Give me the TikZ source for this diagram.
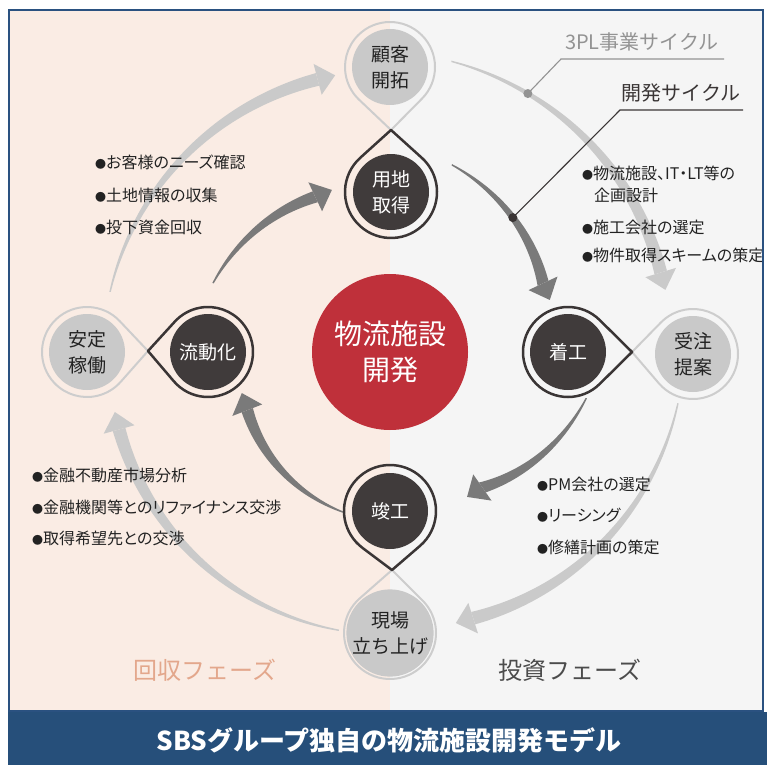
\documentclass[tikz,border=0pt]{standalone}
\usepackage{fontspec}
\newfontfamily\cjk{Noto Sans CJK JP}
\newfontfamily\cjkp[RawFeature=+palt]{Noto Sans CJK JP}
\usetikzlibrary{calc}
\definecolor{cPeach}{HTML}{FAECE4}
\definecolor{cRightBg}{HTML}{F5F5F5}
\definecolor{cFrame}{HTML}{2A5180}
\definecolor{cBanner}{HTML}{264F7A}
\definecolor{cRed}{HTML}{BF303A}
\definecolor{cDarkFill}{HTML}{403B3B}
\definecolor{cDarkRing}{HTML}{3A3535}
\definecolor{cLightFill}{HTML}{C9C9C9}
\definecolor{cLightRing}{HTML}{CDCDCD}
\definecolor{cLightArrow}{HTML}{CACACA}
\definecolor{cDarkArrow}{HTML}{7A7A7A}
\definecolor{cSalmon}{HTML}{E3A78C}
\definecolor{cText}{HTML}{222222}

% tapered curved arrow around the hub: colour, tail angle, tail radius, tip angle, tip radius, body width
\newcommand\swoosh[6]{%
  \pgfmathsetmacro\swAb{(#4)+18/(#5)*57.2958}%
  \fill[#1] plot[smooth,domain=0:1,samples=30,variable=\s]
     ({(#2)+(\swAb-(#2))*\s}:{(#3)+((#5)-(#3))*\s+0.7+((#6)/2-0.7)*\s})
     -- plot[smooth,domain=1:0,samples=30,variable=\s]
     ({(#2)+(\swAb-(#2))*\s}:{(#3)+((#5)-(#3))*\s-0.7-((#6)/2-0.7)*\s}) -- cycle;
  \fill[#1] (\swAb:{(#5)+16}) -- (#4:#5) -- (\swAb:{(#5)-16}) -- cycle;
}
% teardrop loop: style, centre, tip point, radius
\newcommand\teardrop[4]{%
  \draw[#1] let \p1=(#2), \p2=(#3),
     \n1={veclen(\x2-\x1,\y2-\y1)},
     \n2={atan2(\y2-\y1,\x2-\x1)},
     \n3={acos((#4)/\n1)} in
     (#3) -- ($(\p1)+(\n2+\n3:#4)$)
     arc[start angle=\n2+\n3, end angle=\n2+360-\n3, radius=#4] -- cycle;
}

\begin{document}
\begin{tikzpicture}[x=1pt,y=1pt,
  darkcircle/.style={circle,fill=cDarkFill,minimum size=76pt,inner sep=0pt,text=white,align=center,font=\cjk\fontsize{19}{26}\selectfont},
  lightcircle/.style={circle,fill=cLightFill,minimum size=76pt,inner sep=0pt,text=cText,align=center,font=\cjk\fontsize{19}{26}\selectfont},
  hubcircle/.style={circle,fill=cRed,minimum size=156pt,inner sep=0pt,text=white,align=center,font=\cjk\fontsize{28}{36}\selectfont},
  darkloop/.style={draw=cDarkRing,line width=2.5pt,line join=round},
  lightloop/.style={draw=cLightRing,line width=2pt,line join=round},
  item/.style={anchor=west,inner sep=0pt,text=cText,font=\cjkp\fontsize{16}{16}\selectfont},
  cyclelabel/.style={inner sep=0pt,font=\cjk\fontsize{20}{20}\selectfont},
  phaselabel/.style={inner sep=0pt,font=\cjk\fontsize{24}{24}\selectfont}
]
\useasboundingbox (0,0) rectangle (767,-765);
\fill[white] (0,0) rectangle (767,-765);

\begin{scope}
\clip (9,-10) rectangle (763,-711);
\fill[cPeach] (9,-10) rectangle (390,-711);
\fill[cRightBg] (390,-10) rectangle (763,-711);

% cycle arrows
\begin{scope}[shift={(390,-355)}]
  % 3PL cycle (light)
  \swoosh{cLightArrow}{167.3}{287}{101.1}{285}{13}
  \swoosh{cLightArrow}{78.2}{300}{13.3}{283}{13}
  \swoosh{cLightArrow}{-9.5}{292}{-76.2}{276}{13}
  \swoosh{cLightArrow}{259.5}{280}{191.7}{281}{13}
  % development cycle (dark)
  \swoosh{cDarkArrow}{157.9}{191}{109.4}{175}{12}
  \swoosh{cDarkArrow}{72}{200}{19}{169}{12}
  \swoosh{cDarkArrow}{-12.4}{201}{-61.5}{161.5}{12}
  \swoosh{cDarkArrow}{253.3}{164}{194.4}{153}{12}
  \coordinate (dot3pl) at (62.2:295.6);
  \coordinate (dotdev) at (48.2:184.3);
\end{scope}

% cycle labels
\coordinate (bend3pl) at (561,-59);
\coordinate (end3pl) at (724,-59);
\coordinate (benddev) at (620,-110);
\coordinate (enddev) at (743,-110);
\draw[color=gray!85,line width=1.1pt] (dot3pl) -- (bend3pl) -- (end3pl);
\fill[gray!85] (dot3pl) circle (4.5);
\draw[color=cDarkRing,line width=1.1pt] (dotdev) -- (benddev) -- (enddev);
\fill[cDarkRing] (dotdev) circle (4.5);
\node[cyclelabel,text=gray!85] (lbl3pl) at (642,-42) {3PL事業サイクル};
\node[cyclelabel,text=cDarkRing] (lbldev) at (681,-93) {開発サイクル};

% junction points of the loops
\coordinate (ptop) at (391,-130);
\coordinate (pleft) at (148,-351);
\coordinate (pright) at (632,-352);
\coordinate (pbot) at (392,-570);

% centres
\coordinate (cKokyaku) at (390,-67);
\coordinate (cYochi) at (391,-192);
\coordinate (cAntei) at (87,-352);
\coordinate (cRyudo) at (208,-352);
\coordinate (cChakko) at (568,-352);
\coordinate (cJuchu) at (693,-354);
\coordinate (cShunko) at (390,-511);
\coordinate (cGenba) at (390,-633);

\teardrop{lightloop}{cKokyaku}{ptop}{45}
\teardrop{lightloop}{cAntei}{pleft}{45}
\teardrop{lightloop}{cJuchu}{pright}{45}
\teardrop{lightloop}{cGenba}{pbot}{46}
\teardrop{darkloop}{cYochi}{ptop}{46}
\teardrop{darkloop}{cRyudo}{pleft}{45}
\teardrop{darkloop}{cChakko}{pright}{45}
\teardrop{darkloop}{cShunko}{pbot}{46}

\node[lightcircle] (kokyaku) at (cKokyaku) {顧客\\開拓};
\node[darkcircle] (yochi) at (cYochi) {用地\\取得};
\node[lightcircle] (antei) at (cAntei) {安定\\稼働};
\node[darkcircle] (ryudo) at (cRyudo) {流動化};
\node[darkcircle] (chakko) at (cChakko) {着工};
\node[lightcircle] (juchu) at (cJuchu) {受注\\提案};
\node[darkcircle] (shunko) at (cShunko) {竣工};
\node[lightcircle] (genba) at (cGenba) {現場\\立ち上げ};
\node[hubcircle] (hub) at (390,-352) {物流施設\\開発};

% bullet lists
\node[item] (lt1) at (95,-162) {{\cjk\fontsize{11}{11}\selectfont ●}お客様のニーズ確認};
\node[item] (lt2) at (95,-195) {{\cjk\fontsize{11}{11}\selectfont ●}土地情報の収集};
\node[item] (lt3) at (95,-227) {{\cjk\fontsize{11}{11}\selectfont ●}投下資金回収};

\node[item] (rt1) at (582,-173) {{\cjk\fontsize{11}{11}\selectfont ●}物流施設、IT・LT等の};
\node[item] (rt1b) at (594,-195) {企画設計};
\node[item] (rt2) at (582,-227) {{\cjk\fontsize{11}{11}\selectfont ●}施工会社の選定};
\node[item] (rt3) at (582,-255) {{\cjk\fontsize{11}{11}\selectfont ●}物件取得スキームの策定};

\node[item] (lb1) at (32,-475) {{\cjk\fontsize{11}{11}\selectfont ●}金融不動産市場分析};
\node[item] (lb2) at (32,-507) {{\cjk\fontsize{11}{11}\selectfont ●}金融機関等とのリファイナンス交渉};
\node[item] (lb3) at (32,-538) {{\cjk\fontsize{11}{11}\selectfont ●}取得希望先との交渉};

\node[item] (rb1) at (537,-484) {{\cjk\fontsize{11}{11}\selectfont ●}PM会社の選定};
\node[item] (rb2) at (537,-515) {{\cjk\fontsize{11}{11}\selectfont ●}リーシング};
\node[item] (rb3) at (537,-547) {{\cjk\fontsize{11}{11}\selectfont ●}修繕計画の策定};

% phase labels
\node[phaselabel,text=cSalmon] (phaseL) at (205,-670) {回収フェーズ};
\node[phaselabel,text=black!70] (phaseR) at (570,-670) {投資フェーズ};
\end{scope}

\draw[cFrame,line width=1.5pt] (9,-10) rectangle (763,-711);
\fill[cBanner] (8,-712) rectangle (767,-765);
\node[text=white,font=\cjk\bfseries\fontsize{26}{26}\selectfont,inner sep=0pt] (title) at (389,-740) {SBSグループ独自の物流施設開発モデル};
\end{tikzpicture}
\end{document}
